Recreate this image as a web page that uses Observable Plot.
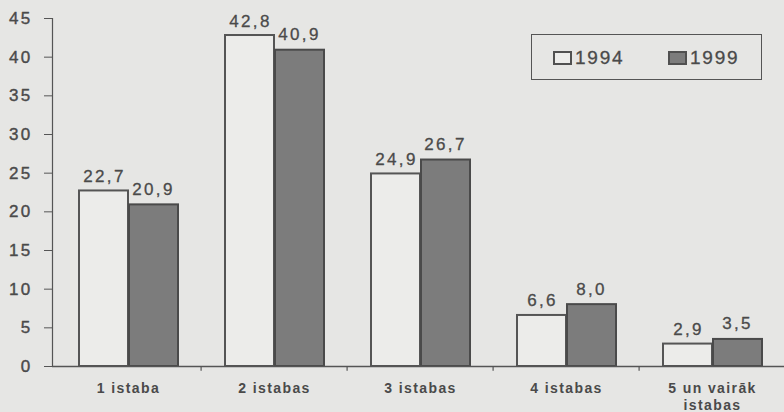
<!DOCTYPE html>
<html>
<head>
<meta charset="utf-8">
<script src="https://cdn.jsdelivr.net/npm/d3@7"></script>
<script src="https://cdn.jsdelivr.net/npm/@observablehq/plot@0.6"></script>
<style>
  html, body { margin: 0; padding: 0; background: #e6e6e4; }
  #wrap { position: relative; width: 784px; height: 412px; overflow: hidden; }
  #legend {
    position: absolute; left: 531px; top: 34px; width: 229px; height: 44px;
    border: 1.5px solid #555; box-sizing: content-box;
    font-family: "Liberation Sans", Arial, sans-serif; font-size: 19px; letter-spacing: 1.8px; color: #4a4a4a;
    -webkit-text-stroke: 0.3px #4a4a4a;
  }
  .item { position: absolute; top: 12px; display: flex; align-items: center; }
  .sw { width: 19px; height: 14px; border: 2.5px solid #505050; box-sizing: border-box; margin-right: 3px; }
</style>
</head>
<body>
<div id="wrap"></div>
<script>
const categories = ["1 istaba", "2 istabas", "3 istabas", "4 istabas", "5 un vairāk\nistabas"];
const years = ["1994", "1999"];
const values1994 = [22.7, 42.8, 24.9, 6.6, 2.9];
const values1999 = [20.9, 40.9, 26.7, 8.0, 3.5];
const yTicks = [0, 5, 10, 15, 20, 25, 30, 35, 40, 45];

const fills = {"1994": "#ececea", "1999": "#7c7c7c"};
const rows = [];
categories.forEach((c, i) => {
  rows.push({category: c, year: "1994", value: values1994[i]});
  rows.push({category: c, year: "1999", value: values1999[i]});
});
const fmt = v => d3.format(".1f")(v).replace(".", ",");
const ink = "#4a4a4a";

const chart = Plot.plot({
  width: 784,
  height: 412,
  marginLeft: 52,
  marginRight: 0,
  marginTop: 18,
  marginBottom: 46,
  style: {fontFamily: "Liberation Sans, Arial, sans-serif", fontSize: "16px", color: ink, background: "transparent", letterSpacing: "2.3px", overflow: "visible"},
  x: {domain: categories, range: [53, 787], padding: 0},
  y: {domain: [0, 45]},
  marks: [
    Plot.barY(rows.filter(d => d.year === "1994"), {x: "category", y: "value", fill: fills["1994"], stroke: "#555", strokeWidth: 2, insetLeft: 24, insetRight: 73}),
    Plot.barY(rows.filter(d => d.year === "1999"), {x: "category", y: "value", fill: fills["1999"], stroke: "#4a4a4a", strokeWidth: 2, insetLeft: 74, insetRight: 23}),
    Plot.text(rows.filter(d => d.year === "1994"), {x: "category", y: "value", text: d => fmt(d.value), dx: -24, dy: -9, lineAnchor: "bottom", fill: ink, stroke: ink, strokeWidth: 0.3, fontSize: 17}),
    Plot.text(rows.filter(d => d.year === "1999"), {x: "category", y: "value", text: d => fmt(d.value), dx: 25, dy: -10, lineAnchor: "bottom", fill: ink, stroke: ink, strokeWidth: 0.3, fontSize: 17}),
    Plot.frame({anchor: "left", stroke: "#555", strokeWidth: 1.2}),
    Plot.ruleY([0], {stroke: "#555", strokeWidth: 1.5}),
    Plot.ruleX(categories.slice(1), {x: d => d, y1: 0, y2: -0.6, dx: -73.4, stroke: "#555", strokeWidth: 1.2}),
    Plot.axisY(yTicks, {tickSize: 8, tickPadding: 12, label: null, stroke: "#555", fill: ink, textStroke: ink, textStrokeWidth: 0.4, fontSize: 17}),
    Plot.axisX(categories, {tickSize: 0, tickPadding: 15, label: null, fill: ink, fontSize: 14, fontWeight: "bold", lineHeight: 1.2})
  ]
});
d3.select(chart).selectAll('g[aria-label="x-axis tick label"] text').style("letter-spacing", "1.4px");
const wrap = document.getElementById("wrap");
wrap.appendChild(chart);

const legend = document.createElement("div");
legend.id = "legend";
const lefts = [21, 136];
years.forEach((yr, i) => {
  const it = document.createElement("div");
  it.className = "item";
  it.style.left = lefts[i] + "px";
  const sw = document.createElement("div");
  sw.className = "sw";
  sw.style.background = fills[yr];
  const t = document.createElement("span");
  t.textContent = yr;
  it.appendChild(sw); it.appendChild(t);
  legend.appendChild(it);
});
wrap.appendChild(legend);
</script>
</body>
</html>
